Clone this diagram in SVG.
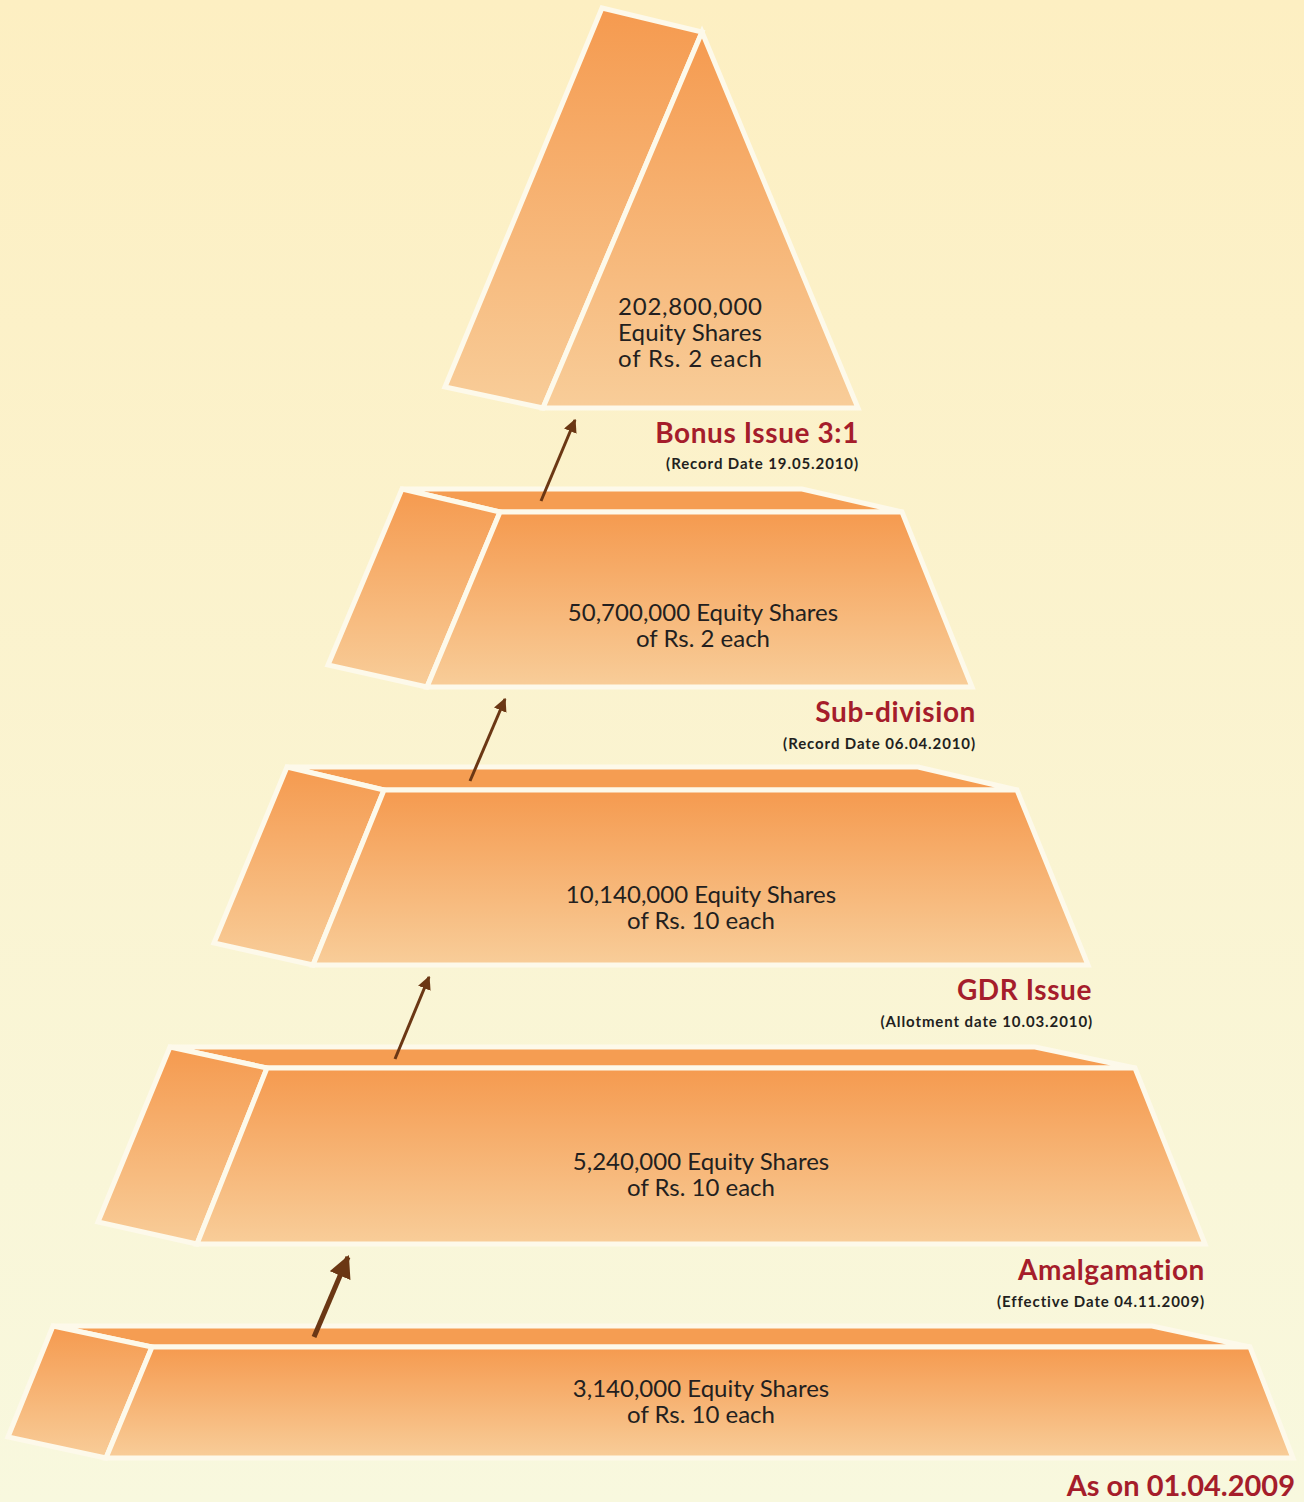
<svg xmlns="http://www.w3.org/2000/svg" width="1304" height="1502" viewBox="0 0 1304 1502">
<defs>
<linearGradient id="bg" x1="0" y1="0" x2="0" y2="1">
<stop offset="0" stop-color="#fdefc2"/>
<stop offset="1" stop-color="#f8f8de"/>
</linearGradient>
<linearGradient id="face" x1="0" y1="0" x2="0" y2="1">
<stop offset="0" stop-color="#f59a4f"/>
<stop offset="1" stop-color="#f8cd99"/>
</linearGradient>
<marker id="head" viewBox="0 0 10 10" refX="9" refY="5" markerWidth="4.5" markerHeight="4.5" orient="auto" markerUnits="strokeWidth">
<path d="M0,0 L10,5 L0,10 z" fill="#6b3714"/>
</marker>
<marker id="headBig" viewBox="0 0 10 10" refX="9" refY="5" markerWidth="4.5" markerHeight="4.5" orient="auto" markerUnits="strokeWidth">
<path d="M0,0 L10,5 L0,10 z" fill="#6b3714"/>
</marker>
</defs>
<style>
.f{fill:url(#face);stroke:#fdf9ea;stroke-width:5;stroke-linejoin:miter}
.t{fill:#f59d52;stroke:#fdf9ea;stroke-width:5}
.body{font-family:Lato,"Open Sans",sans-serif;font-size:24px;fill:#231f20;text-anchor:middle}
.lab{font-family:Lato,"Open Sans",sans-serif;font-weight:bold;font-size:28px;letter-spacing:0.6px;fill:#a51d2b;text-anchor:end}
.sub{font-family:Lato,"Open Sans",sans-serif;font-weight:bold;font-size:15px;letter-spacing:0.9px;fill:#231f20;text-anchor:end}
.arr{stroke:#6b3714;stroke-width:3;fill:none}
</style>
<rect width="1304" height="1502" fill="url(#bg)"/>

<g id="tier1">
<polygon class="f" points="602,8 702,32 543,408 445,387"/>
<polygon class="f" points="702,32 858,408 543,408"/>
<text class="body" x="690" y="315" textLength="144" lengthAdjust="spacing">202,800,000</text>
<text class="body" x="690" y="341" textLength="144" lengthAdjust="spacing">Equity Shares</text>
<text class="body" x="690" y="367" textLength="144" lengthAdjust="spacing">of Rs. 2 each</text>
</g>

<g id="tier2">
<polygon class="t" points="402,489 802,489 902,512 500,512"/>
<polygon class="f" points="402,489 500,512 427,687 328,665"/>
<polygon class="f" points="500,512 902,512 972,687 427,687"/>
<text class="body" x="703" y="621">50,700,000 Equity Shares</text>
<text class="body" x="703" y="647">of Rs. 2 each</text>
</g>

<g id="tier3">
<polygon class="t" points="287,767 918,767 1017,790 384,790"/>
<polygon class="f" points="287,767 384,790 313,965 214,943"/>
<polygon class="f" points="384,790 1017,790 1088,965 313,965"/>
<text class="body" x="701" y="903">10,140,000 Equity Shares</text>
<text class="body" x="701" y="929">of Rs. 10 each</text>
</g>

<g id="tier4">
<polygon class="t" points="170,1047 1035,1047 1135,1068 267,1068"/>
<polygon class="f" points="170,1047 267,1068 197,1244 98,1222"/>
<polygon class="f" points="267,1068 1135,1068 1205,1244 197,1244"/>
<text class="body" x="701" y="1170">5,240,000 Equity Shares</text>
<text class="body" x="701" y="1196">of Rs. 10 each</text>
</g>

<g id="tier5">
<polygon class="t" points="53,1326 1152,1326 1250,1347 152,1347"/>
<polygon class="f" points="53,1326 152,1347 106,1458 8,1437"/>
<polygon class="f" points="152,1347 1250,1347 1293,1458 106,1458"/>
<text class="body" x="701" y="1397">3,140,000 Equity Shares</text>
<text class="body" x="701" y="1423">of Rs. 10 each</text>
</g>

<g id="labels">
<text class="lab" x="859" y="443">Bonus Issue 3:1</text>
<text class="sub" x="859" y="469">(Record Date 19.05.2010)</text>
<text class="lab" x="976" y="722">Sub-division</text>
<text class="sub" x="976" y="749">(Record Date 06.04.2010)</text>
<text class="lab" x="1092" y="1000">GDR Issue</text>
<text class="sub" x="1093" y="1027">(Allotment date 10.03.2010)</text>
<text class="lab" x="1205" y="1280">Amalgamation</text>
<text class="sub" x="1205" y="1307">(Effective Date 04.11.2009)</text>
<text class="lab" x="1295" y="1496" style="font-size:29px;letter-spacing:0">As on 01.04.2009</text>
</g>

<g id="connectors">
<line class="arr" x1="541" y1="501" x2="575" y2="420" marker-end="url(#head)"/>
<line class="arr" x1="470" y1="781" x2="505" y2="699" marker-end="url(#head)"/>
<line class="arr" x1="395" y1="1059" x2="429" y2="977" marker-end="url(#head)"/>
<line class="arr" x1="314" y1="1337" x2="348" y2="1257" style="stroke-width:5" marker-end="url(#headBig)"/>
</g>
</svg>
